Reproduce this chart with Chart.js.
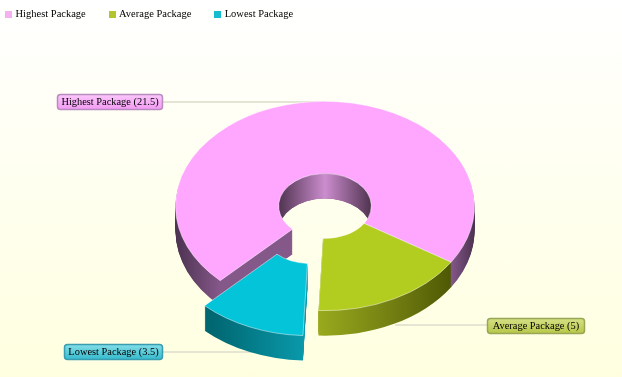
<!DOCTYPE html>
<html>
<head>
<meta charset="utf-8">
<title>Package</title>
<script src="https://cdn.jsdelivr.net/npm/chart.js@4"></script>
<style>
    html, body { margin: 0; padding: 0; background: #ffffe0; }
    #chartBox { width: 622px; height: 377px; background: linear-gradient(to bottom, #ffffff 0%, #ffffe0 100%); }
    canvas { display: block; }
</style>
</head>
<body>
<div id="chartBox"><canvas id="packageChart" width="622" height="377"></canvas></div>
<script>
let categories = ['Highest Package', 'Average Package', 'Lowest Package'];
let packageValues = [21.5, 5, 3.5];

let topColors = ['#ffa6ff', '#b2cc1f', '#03c4d8'];
let legendColors = ['#f5b0f0', '#b2c52f', '#17bccf'];

// 파이 입체 효과 설정
const squash = 0.7;
const depth = 25;
const explode = [0, 0, 39];

// 옆면 그라데이션 (파이 전체 너비 기준 위치)
let sideStops = [
    [[0, '#4c3250'], [0.15, '#85588a'], [0.92, '#85588a'], [1, '#4c3250']],
    [[0, '#a2b222'], [0.47, '#9aab1e'], [0.75, '#6e7a10'], [0.93, '#4d5704'], [1, '#4d5704']],
    [[0, '#006670'], [0.17, '#006670'], [0.5, '#0a9cae'], [1, '#0a9cae']]
];

// 라벨 박스와 연결선
let callouts = [
    { index: 0, x: 57, y: 94, w: 105, h: 15, lineFrom: 162, lineTo: 325, lineY: 102, top: '#fbc8fb', bottom: '#f49cf4', border: '#b98cc0' },
    { index: 1, x: 487, y: 318, w: 97, h: 15, lineFrom: 395, lineTo: 487, lineY: 325, top: '#d6e288', bottom: '#b8c84a', border: '#98a656' },
    { index: 2, x: 64, y: 344, w: 98, h: 15, lineFrom: 162, lineTo: 260, lineY: 352, top: '#86dfe9', bottom: '#38bccd', border: '#3a9cb0' }
];

function makeSwatch(color) {
    let c = document.createElement('canvas');
    c.width = 7;
    c.height = 7;
    let g = c.getContext('2d');
    g.fillStyle = color;
    g.fillRect(0, 0, 7, 7);
    return c;
}

function sweepPath(ctx, arc, offsetY) {
    ctx.beginPath();
    ctx.arc(arc.x, arc.y + offsetY, arc.outerRadius, arc.startAngle, arc.endAngle);
    ctx.arc(arc.x, arc.y + offsetY, arc.innerRadius, arc.endAngle, arc.startAngle, true);
    ctx.closePath();
}

function drawSlice(ctx, arc, index) {
    let mid = (arc.startAngle + arc.endAngle) / 2;
    let R = arc.outerRadius;

    ctx.save();
    ctx.translate(Math.cos(mid) * explode[index], Math.sin(mid) * explode[index]);

    // 옆면
    let grad = ctx.createLinearGradient(arc.x - R, 0, arc.x + R, 0);
    sideStops[index].forEach(s => grad.addColorStop(s[0], s[1]));
    ctx.fillStyle = grad;
    for (let d = depth; d >= 1; d--) {
        sweepPath(ctx, arc, d / squash);
        ctx.fill();
    }

    // 가운데 구멍 안쪽 벽 (뒤쪽만 보임)
    if (index === 0) {
        let r = arc.innerRadius;
        let hole = ctx.createLinearGradient(arc.x - r, 0, arc.x + r, 0);
        hole.addColorStop(0, '#4f3350');
        hole.addColorStop(0.5, '#cc8dce');
        hole.addColorStop(1, '#4f3350');
        ctx.save();
        ctx.beginPath();
        ctx.arc(arc.x, arc.y, r, 0, Math.PI * 2);
        ctx.clip();
        ctx.beginPath();
        ctx.rect(arc.x - r, arc.y - r, r * 2, r * 2);
        ctx.arc(arc.x, arc.y + depth / squash, r, 0, Math.PI * 2);
        ctx.fillStyle = hole;
        ctx.fill('evenodd');
        ctx.restore();
    }

    // 윗면은 라이브러리의 arc 로 그림
    arc.draw(ctx);
    ctx.restore();
}

function drawCallout(ctx, c) {
    let grad = ctx.createLinearGradient(0, c.y, 0, c.y + c.h);
    grad.addColorStop(0, c.top);
    grad.addColorStop(1, c.bottom);
    ctx.beginPath();
    ctx.roundRect(c.x + 0.5, c.y + 0.5, c.w, c.h, 3);
    ctx.fillStyle = grad;
    ctx.fill();
    ctx.lineWidth = 1.5;
    ctx.strokeStyle = c.border;
    ctx.stroke();
    ctx.fillStyle = '#000000';
    ctx.font = '10.4px "Liberation Serif"';
    ctx.textAlign = 'center';
    ctx.textBaseline = 'middle';
    ctx.fillText(categories[c.index] + ' (' + packageValues[c.index] + ')', c.x + c.w / 2 + 0.5, c.y + c.h / 2 + 1);
}

const pie3d = {
    id: 'pie3d',
    afterLayout(chart) {
        // 범례를 왼쪽 위로 이동
        chart.legend.left = -17.75;
        chart.legend.top = -15.75;
    },
    beforeDatasetDraw(chart, args) {
        let ctx = chart.ctx;
        let arcs = chart.getDatasetMeta(args.index).data;

        ctx.save();
        callouts.forEach(c => {
            ctx.beginPath();
            ctx.moveTo(c.lineFrom, c.lineY);
            ctx.lineTo(c.lineTo, c.lineY);
            ctx.lineWidth = 1.5;
            ctx.strokeStyle = '#dcdccb';
            ctx.stroke();
        });
        ctx.restore();

        ctx.save();
        ctx.translate(arcs[0].x, arcs[0].y);
        ctx.scale(1, squash);
        ctx.translate(-arcs[0].x, -arcs[0].y);
        arcs.forEach((arc, i) => drawSlice(ctx, arc, i));
        ctx.restore();
        return false;
    },
    afterDatasetsDraw(chart) {
        let ctx = chart.ctx;
        ctx.save();
        callouts.forEach(c => drawCallout(ctx, c));
        ctx.restore();
    }
};

let swatches = legendColors.map(makeSwatch);

new Chart(document.getElementById('packageChart').getContext('2d'), {
    type: 'doughnut',
    data: {
        labels: categories,
        datasets: [{
            data: packageValues,
            backgroundColor: topColors,
            borderColor: 'rgba(255, 255, 255, 0.55)',
            borderWidth: 1
        }]
    },
    options: {
        responsive: false,
        animation: false,
        rotation: 224.5,
        cutout: '31%',
        layout: { padding: { left: 28, top: 11, bottom: 21 } },
        plugins: {
            tooltip: { enabled: false },
            legend: {
                position: 'top',
                align: 'start',
                labels: {
                    color: '#000000',
                    font: { family: '"Liberation Serif"', size: 10.5 },
                    padding: 24.5,
                    usePointStyle: true,
                    pointStyleWidth: 3.5,
                    generateLabels: () => categories.map((text, i) => ({
                        text: text,
                        pointStyle: swatches[i],
                        fillStyle: legendColors[i],
                        strokeStyle: legendColors[i],
                        lineWidth: 0,
                        hidden: false,
                        index: i
                    }))
                }
            }
        }
    },
    plugins: [pie3d]
});
</script>
</body>
</html>
